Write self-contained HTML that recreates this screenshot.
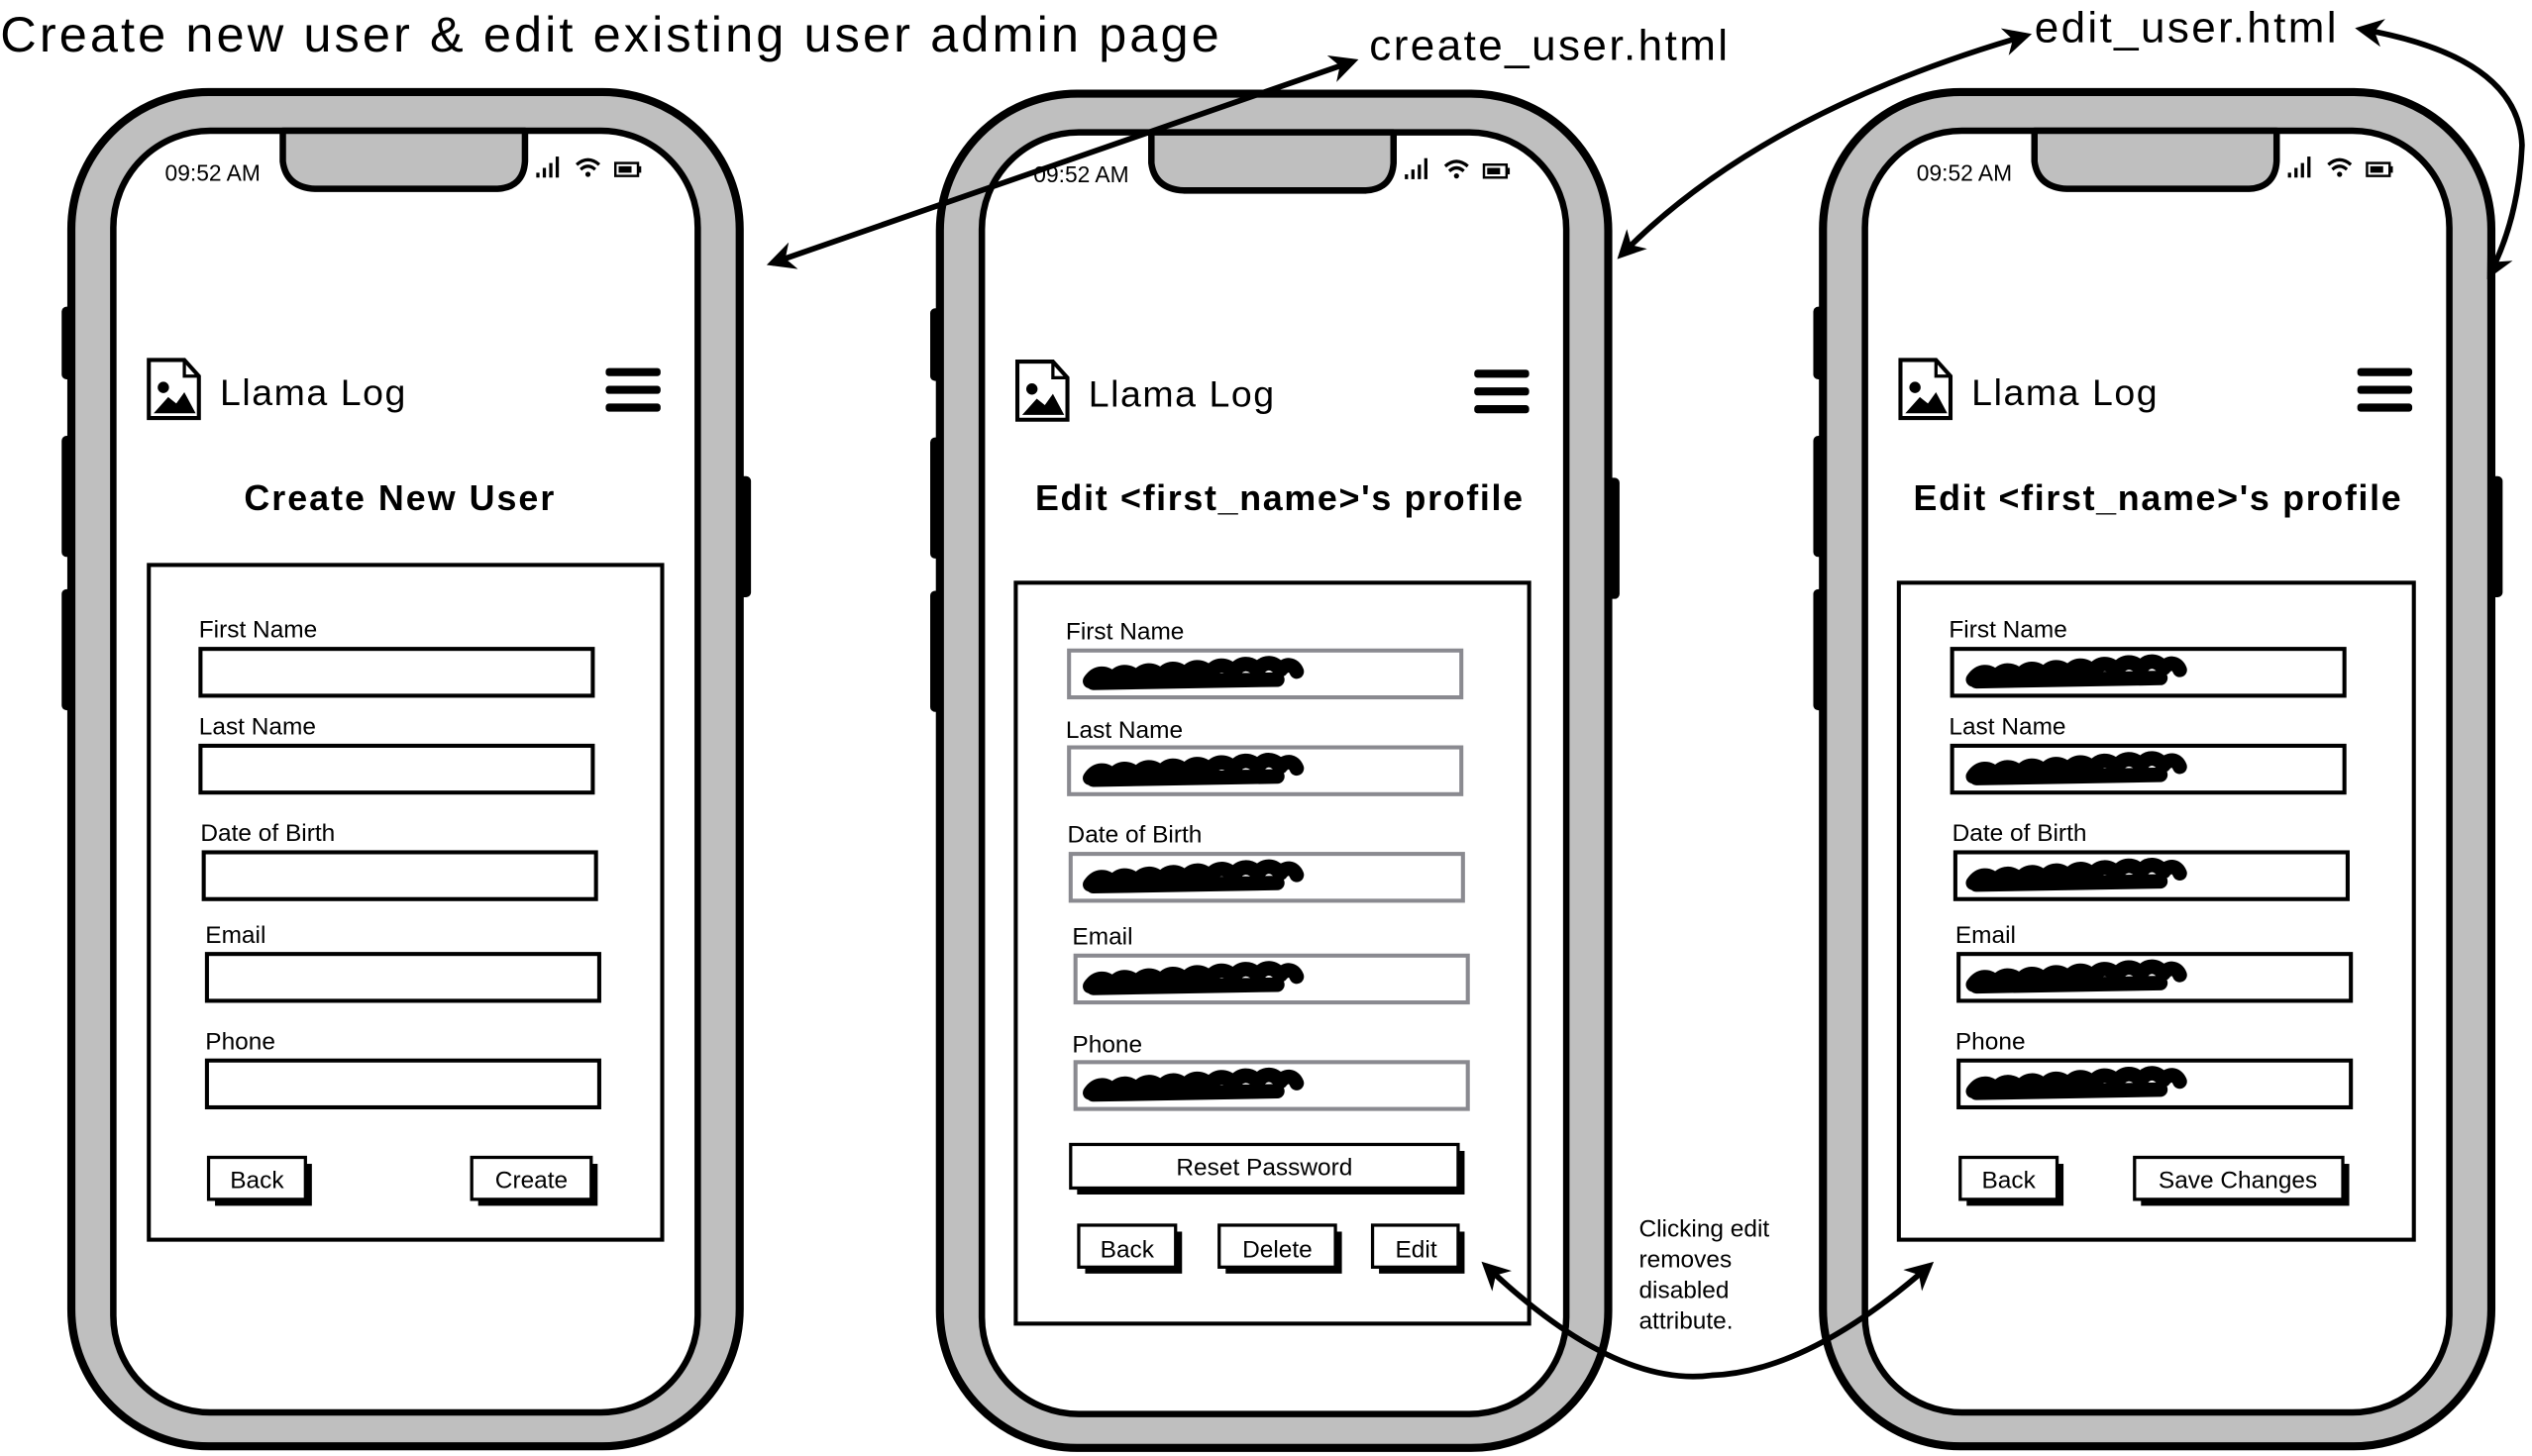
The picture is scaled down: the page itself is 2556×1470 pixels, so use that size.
<!DOCTYPE html>
<html><head><meta charset="utf-8"><style>
html,body{margin:0;padding:0;background:#fff;width:2556px;height:1470px;overflow:hidden}
svg{display:block}
text{font-family:"Liberation Sans",sans-serif;fill:#000}
</style></head><body>
<svg width="2556" height="1470" viewBox="0 0 1568 902" xmlns="http://www.w3.org/2000/svg">
<defs>
<marker id="ah" viewBox="0 0 10 10" refX="8" refY="5" markerWidth="5" markerHeight="5" orient="auto-start-reverse" markerUnits="strokeWidth">
<path d="M0,0 L10,5 L0,10 L3,5 Z" fill="#000"/></marker>
<g id="shell">
<rect x="38" y="190" width="8" height="45" rx="3" fill="#000"/>
<rect x="38" y="270" width="8" height="75" rx="3" fill="#000"/>
<rect x="38" y="365" width="8" height="75" rx="3" fill="#000"/>
<rect x="456" y="295" width="9" height="75" rx="3" fill="#000"/>
<rect x="44" y="57" width="414" height="839" rx="85" fill="#bfbfbf" stroke="#000" stroke-width="5"/>
<rect x="70" y="81" width="362" height="794" rx="60" fill="#fff" stroke="#000" stroke-width="4"/>
<path d="M175,81 L175,100 Q177,116 195,117 L308,117 Q324,116 325,100 L325,81 Z" fill="#bfbfbf" stroke="#000" stroke-width="4" stroke-linejoin="round"/>
<text x="102" y="112" font-size="14">09:52 AM</text>
<rect x="332" y="107" width="2" height="3" fill="#000"/><rect x="336" y="104" width="2" height="6" fill="#000"/><rect x="340" y="101" width="2" height="9" fill="#000"/><rect x="344" y="97" width="2" height="13" fill="#000"/>
<path d="M357,102 Q364,96 371,102 M359.5,105 Q364,101 368.5,105" stroke="#000" stroke-width="2" fill="none"/><circle cx="364" cy="108" r="1.6" fill="#000"/>
<rect x="381" y="101" width="14" height="8" fill="none" stroke="#000" stroke-width="1.5"/><rect x="383" y="103" width="8" height="4" fill="#000"/><rect x="395" y="103" width="2" height="4" fill="#000"/>
<path d="M92,223 L114,223 L123,233 L123,259 L92,259 Z" fill="#fff" stroke="#000" stroke-width="2.5"/>
<path d="M114,223 L114,233 L123,233" fill="none" stroke="#000" stroke-width="2"/>
<circle cx="101" cy="240" r="3.5" fill="#000"/><path d="M95,256 L104,246 L109,250 L114,243 L121,256 Z" fill="#000"/>
<text x="136" y="251" font-size="23" textLength="115">Llama Log</text>
<rect x="375" y="228" width="34" height="5" rx="2" fill="#000"/><rect x="375" y="239" width="34" height="5" rx="2" fill="#000"/><rect x="375" y="250" width="34" height="5" rx="2" fill="#000"/>
</g>
<path id="scr" d="M4,8 c4,-6 10,-6 14,-1 c4,-6 10,-6 15,-1 c4,-6 10,-6 15,-1 c4,-6 10,-6 15,-1 c4,-6 10,-6 15,-1 c4,-6 10,-6 15,-1 c4,-6 10,-6 15,-1 c4,-6 10,-5 14,0 c3,-4 8,-4 10,1 M6,9 L120,7" fill="none" stroke="#000" stroke-width="9" stroke-linecap="round" stroke-linejoin="round"/>
</defs>

<text x="0" y="32" font-size="31" textLength="755">Create new user &amp; edit existing user admin page</text>
<text x="848" y="37" font-size="27" textLength="222">create_user.html</text>
<text x="1260" y="26" font-size="27" textLength="187">edit_user.html</text>

<!-- Phone 1 -->
<use href="#shell"/>
<text x="151" y="316" font-size="22" font-weight="bold" textLength="192">Create New User</text>
<rect x="92" y="350" width="318" height="418" fill="none" stroke="#000" stroke-width="2.5"/>
<g font-size="15">
<text x="123" y="395">First Name</text><rect x="124" y="402" width="243" height="29" fill="none" stroke="#000" stroke-width="2.5"/>
<text x="123" y="455">Last Name</text><rect x="124" y="462" width="243" height="29" fill="none" stroke="#000" stroke-width="2.5"/>
<text x="124" y="521">Date of Birth</text><rect x="126" y="528" width="243" height="29" fill="none" stroke="#000" stroke-width="2.5"/>
<text x="127" y="584">Email</text><rect x="128" y="591" width="243" height="29" fill="none" stroke="#000" stroke-width="2.5"/>
<text x="127" y="650">Phone</text><rect x="128" y="657" width="243" height="29" fill="none" stroke="#000" stroke-width="2.5"/>
<rect x="133" y="721" width="60" height="26" fill="#000"/><rect x="129" y="717" width="60" height="26" fill="#fff" stroke="#000" stroke-width="2"/><text x="159" y="736" text-anchor="middle">Back</text>
<rect x="296" y="721" width="74" height="26" fill="#000"/><rect x="292" y="717" width="74" height="26" fill="#fff" stroke="#000" stroke-width="2"/><text x="329" y="736" text-anchor="middle">Create</text>
</g>

<!-- Phone 2 -->
<g transform="translate(538,1)"><use href="#shell"/></g>
<text x="641" y="316" font-size="22" font-weight="bold" textLength="302">Edit &lt;first_name&gt;'s profile</text>
<rect x="629" y="361" width="318" height="459" fill="none" stroke="#000" stroke-width="2.5"/>
<g font-size="15">
<text x="660" y="396">First Name</text><rect x="662" y="403" width="243" height="29" fill="none" stroke="#8a8a90" stroke-width="2.5"/><use href="#scr" x="671" y="414"/>
<text x="660" y="457">Last Name</text><rect x="662" y="463" width="243" height="29" fill="none" stroke="#8a8a90" stroke-width="2.5"/><use href="#scr" x="671" y="474"/>
<text x="661" y="522">Date of Birth</text><rect x="663" y="529" width="243" height="29" fill="none" stroke="#8a8a90" stroke-width="2.5"/><use href="#scr" x="671" y="540"/>
<text x="664" y="585">Email</text><rect x="666" y="592" width="243" height="29" fill="none" stroke="#8a8a90" stroke-width="2.5"/><use href="#scr" x="671" y="603"/>
<text x="664" y="652">Phone</text><rect x="666" y="658" width="243" height="29" fill="none" stroke="#8a8a90" stroke-width="2.5"/><use href="#scr" x="671" y="669"/>
<rect x="667" y="713" width="240" height="27" fill="#000"/><rect x="663" y="709" width="240" height="27" fill="#fff" stroke="#000" stroke-width="2"/><text x="783" y="728" text-anchor="middle">Reset Password</text>
<rect x="672" y="763" width="60" height="26" fill="#000"/><rect x="668" y="759" width="60" height="26" fill="#fff" stroke="#000" stroke-width="2"/><text x="698" y="779" text-anchor="middle">Back</text>
<rect x="759" y="763" width="72" height="26" fill="#000"/><rect x="755" y="759" width="72" height="26" fill="#fff" stroke="#000" stroke-width="2"/><text x="791" y="779" text-anchor="middle">Delete</text>
<rect x="854" y="763" width="53" height="26" fill="#000"/><rect x="850" y="759" width="53" height="26" fill="#fff" stroke="#000" stroke-width="2"/><text x="877" y="779" text-anchor="middle">Edit</text>
</g>

<!-- Phone 3 -->
<g transform="translate(1085,0)"><use href="#shell"/></g>
<text x="1185" y="316" font-size="22" font-weight="bold" textLength="302">Edit &lt;first_name&gt;'s profile</text>
<rect x="1176" y="361" width="319" height="407" fill="none" stroke="#000" stroke-width="2.5"/>
<g font-size="15">
<text x="1207" y="395">First Name</text><rect x="1209" y="402" width="243" height="29" fill="none" stroke="#000" stroke-width="2.5"/><use href="#scr" x="1218" y="413"/>
<text x="1207" y="455">Last Name</text><rect x="1209" y="462" width="243" height="29" fill="none" stroke="#000" stroke-width="2.5"/><use href="#scr" x="1218" y="473"/>
<text x="1209" y="521">Date of Birth</text><rect x="1211" y="528" width="243" height="29" fill="none" stroke="#000" stroke-width="2.5"/><use href="#scr" x="1218" y="539"/>
<text x="1211" y="584">Email</text><rect x="1213" y="591" width="243" height="29" fill="none" stroke="#000" stroke-width="2.5"/><use href="#scr" x="1218" y="602"/>
<text x="1211" y="650">Phone</text><rect x="1213" y="657" width="243" height="29" fill="none" stroke="#000" stroke-width="2.5"/><use href="#scr" x="1218" y="668"/>
<rect x="1218" y="721" width="60" height="26" fill="#000"/><rect x="1214" y="717" width="60" height="26" fill="#fff" stroke="#000" stroke-width="2"/><text x="1244" y="736" text-anchor="middle">Back</text>
<rect x="1326" y="721" width="129" height="26" fill="#000"/><rect x="1322" y="717" width="129" height="26" fill="#fff" stroke="#000" stroke-width="2"/><text x="1386" y="736" text-anchor="middle">Save Changes</text>
</g>

<text font-size="15"><tspan x="1015" y="766">Clicking edit</tspan><tspan x="1015" y="785">removes</tspan><tspan x="1015" y="804">disabled</tspan><tspan x="1015" y="823">attribute.</tspan></text>

<!-- connectors -->
<g fill="none" stroke="#000" stroke-width="3.5" marker-start="url(#ah)" marker-end="url(#ah)">
<path d="M838,38 L478,163"/>
<path d="M1255,22 Q1090,70 1004,158"/>
<path d="M1462,18 Q1560,35 1562,90 Q1560,135 1542,170"/>
<path d="M920,784 Q1000,860 1060,852 Q1120,850 1195,784"/>
</g>
</svg>
</body></html>
